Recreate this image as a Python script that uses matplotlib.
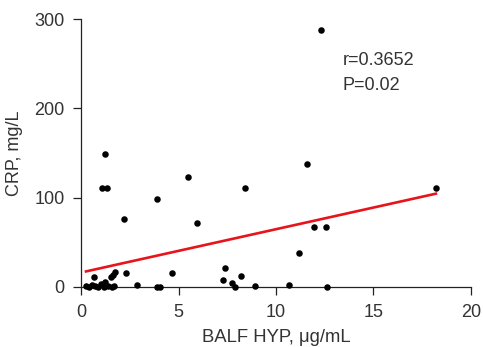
import numpy as np
import matplotlib.pyplot as plt

plt.rcParams['font.family'] = ['Liberation Sans', 'DejaVu Sans']

# BALF HYP (ug/mL) and CRP (mg/L)
hyp = [0.25, 0.4, 0.55, 0.68, 0.7, 0.85, 1.0, 1.15, 1.23, 1.4, 1.52, 1.6, 1.62, 1.7, 1.74,
       1.06, 1.21, 1.33, 2.2, 2.29, 2.89, 3.88, 3.9, 4.05, 4.68, 5.47, 5.95,
       7.3, 7.38, 7.76, 7.9, 8.2, 8.43, 8.92, 10.68, 11.2, 11.57, 11.95, 12.3,
       12.56, 12.6, 18.2]
crp = [1, 0, 2, 11.5, 1, 0, 3, 0, 6, 1, 10.8, 0, 13.8, 1, 16.4,
       110.5, 149, 111, 76, 15.3, 2, 98, 0, 0, 15.5, 123.5, 71.7,
       8, 21, 4, 0, 12, 111, 1.5, 2.6, 37.7, 138, 67.5, 288,
       67.5, 0, 111]

r_text = 'r=0.3652'
p_text = 'P=0.02'

x = np.array(hyp)
y = np.array(crp)
slope, intercept = np.polyfit(x, y, 1)
xf = np.array([x.min(), x.max()])

fig = plt.figure(figsize=(4.83, 3.47), dpi=100)
ax = fig.add_axes([0.168, 0.173, 0.807, 0.772])

ax.scatter(x, y, s=22, c='black', zorder=3, clip_on=False, linewidths=0)
ax.plot(xf, intercept + slope * xf, color='#e8141b', lw=1.9, zorder=4)

ax.set_xlim(0, 20)
ax.set_ylim(0, 300)
ax.set_xticks([0, 5, 10, 15, 20])
ax.set_yticks([0, 100, 200, 300])
for s in ['top', 'right']:
    ax.spines[s].set_visible(False)
for s in ['left', 'bottom']:
    ax.spines[s].set_linewidth(0.9)
    ax.spines[s].set_color('#222222')
ax.tick_params(direction='out', length=6, width=0.9, color='#222222',
               labelsize=13, labelcolor='#333333', pad=6)

ax.set_xlabel('BALF HYP, μg/mL', fontsize=13.3, color='#333333', labelpad=6)
ax.set_ylabel('CRP, mg/L', fontsize=13, color='#333333', labelpad=8)

ax.text(13.4, 254, r_text, fontsize=13, color='#333333', va='center')
ax.text(13.4, 226, p_text, fontsize=13, color='#333333', va='center')

fig.savefig('out.png', dpi=100)
